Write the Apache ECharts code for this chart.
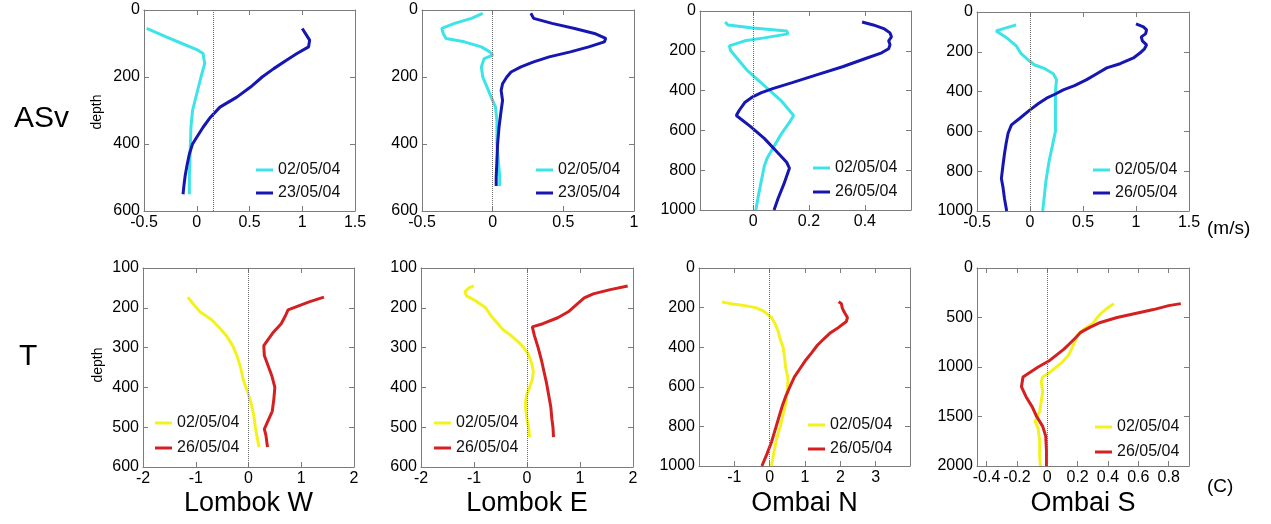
<!DOCTYPE html>
<html><head><meta charset="utf-8">
<script src="https://cdn.jsdelivr.net/npm/echarts@6/dist/echarts.min.js"></script>
<style>html,body{margin:0;padding:0;background:#fff}#c{width:1271px;height:524px}</style>
</head><body><div id="c"></div>
<script>
// ---------- DATA ----------
const rowLabels = ['ASv', 'T'];
const colTitles = ['Lombok W', 'Lombok E', 'Ombai N', 'Ombai S'];
const asvNames12 = ['02/05/04', '23/05/04'];
const asvNames34 = ['02/05/04', '26/05/04'];
const tNames = ['02/05/04', '26/05/04'];

// ASv - Lombok W
const asvLW_dep1 = [55, 80, 100, 118, 130, 160, 200, 250, 300, 350, 400, 450, 500, 550];
const asvLW_val1 = [-0.475, -0.29, -0.14, 0.0, 0.06, 0.075, 0.04, 0.0, -0.04, -0.055, -0.06, -0.065, -0.07, -0.07];
const asvLW_dep2 = [55, 75, 90, 110, 130, 150, 175, 200, 230, 260, 290, 320, 350, 380, 400, 430, 460, 495, 520, 550];
const asvLW_val2 = [1.0, 1.04, 1.07, 1.06, 0.95, 0.85, 0.73, 0.62, 0.51, 0.38, 0.22, 0.13, 0.06, 0.0, -0.04, -0.07, -0.09, -0.11, -0.12, -0.13];
// ASv - Lombok E
const asvLE_dep1 = [10, 25, 40, 55, 70, 85, 95, 110, 125, 135, 145, 170, 200, 230, 260, 290, 330, 400, 450, 500, 525];
const asvLE_val1 = [-0.07, -0.15, -0.27, -0.36, -0.35, -0.33, -0.2, -0.08, -0.02, 0.0, -0.06, -0.08, -0.07, -0.04, -0.01, 0.02, 0.03, 0.03, 0.04, 0.05, 0.05];
const asvLE_dep2 = [10, 25, 40, 55, 70, 85, 95, 110, 125, 140, 155, 170, 185, 200, 220, 240, 270, 300, 350, 400, 450, 500, 525];
const asvLE_val2 = [0.27, 0.29, 0.42, 0.58, 0.72, 0.80, 0.79, 0.68, 0.55, 0.40, 0.29, 0.20, 0.13, 0.10, 0.07, 0.06, 0.07, 0.06, 0.045, 0.035, 0.03, 0.025, 0.025];
// ASv - Ombai N
const asvON_dep1 = [55, 70, 85, 100, 115, 135, 150, 175, 200, 250, 300, 350, 400, 450, 500, 525, 560, 620, 680, 740, 780, 850, 920, 1000];
const asvON_val1 = [-0.1, -0.09, 0.0, 0.12, 0.125, 0.04, -0.03, -0.085, -0.08, -0.05, -0.02, 0.02, 0.06, 0.10, 0.13, 0.145, 0.13, 0.10, 0.075, 0.05, 0.04, 0.03, 0.02, 0.01];
const asvON_dep2 = [55, 70, 90, 110, 130, 150, 170, 190, 210, 240, 280, 320, 360, 390, 410, 430, 460, 500, 525, 580, 640, 700, 760, 790, 810, 870, 940, 1000];
const asvON_val2 = [0.39, 0.43, 0.47, 0.49, 0.495, 0.485, 0.49, 0.485, 0.46, 0.40, 0.32, 0.23, 0.14, 0.07, 0.03, 0.0, -0.03, -0.05, -0.06, -0.01, 0.04, 0.08, 0.12, 0.13, 0.125, 0.11, 0.09, 0.075];
// ASv - Ombai S
const asvOS_dep1 = [65, 95, 130, 170, 205, 240, 265, 285, 310, 340, 400, 500, 600, 650, 750, 850, 950, 1000];
const asvOS_val1 = [-0.13, -0.32, -0.22, -0.13, -0.09, -0.02, 0.04, 0.14, 0.22, 0.25, 0.24, 0.24, 0.24, 0.22, 0.18, 0.15, 0.13, 0.12];
const asvOS_dep2 = [60, 75, 90, 110, 125, 145, 165, 185, 205, 231, 260, 281, 310, 340, 370, 391, 412, 433, 460, 492, 534, 567, 609, 660, 710, 770, 837, 880, 940, 1000];
const asvOS_val2 = [1.0, 1.07, 1.1, 1.09, 1.05, 1.06, 1.1, 1.08, 1.04, 0.976, 0.85, 0.724, 0.63, 0.535, 0.42, 0.314, 0.24, 0.156, 0.08, 0.0, -0.096, -0.175, -0.207, -0.225, -0.24, -0.255, -0.27, -0.255, -0.24, -0.22];

// T - Lombok W
const tLW_dep1 = [173, 190, 210, 230, 250, 270, 295, 320, 350, 380, 410, 440, 470, 500, 530, 550];
const tLW_val1 = [-1.15, -1.05, -0.92, -0.7, -0.55, -0.42, -0.3, -0.22, -0.15, -0.1, -0.02, 0.05, 0.1, 0.13, 0.17, 0.2];
const tLW_dep2 = [173, 185, 195, 205, 220, 240, 260, 280, 295, 320, 345, 370, 400, 430, 460, 490, 505, 520, 550];
const tLW_val2 = [1.43, 1.15, 0.95, 0.75, 0.7, 0.62, 0.48, 0.37, 0.29, 0.3, 0.37, 0.44, 0.5, 0.48, 0.45, 0.35, 0.3, 0.33, 0.36];
// T - Lombok E
const tLE_dep1 = [145, 150, 160, 170, 180, 200, 220, 240, 255, 270, 285, 300, 315, 340, 360, 380, 400, 420, 440, 460, 480, 500, 525];
const tLE_val1 = [-1.0, -1.1, -1.17, -1.14, -1.0, -0.78, -0.68, -0.55, -0.45, -0.3, -0.17, -0.06, 0.02, 0.09, 0.12, 0.1, 0.05, -0.01, -0.03, -0.02, 0.0, 0.03, 0.05];
const tLE_dep2 = [145, 155, 165, 175, 190, 210, 225, 240, 248, 270, 300, 330, 360, 390, 420, 450, 480, 500, 525];
const tLE_val2 = [1.9, 1.55, 1.25, 1.08, 0.95, 0.78, 0.58, 0.3, 0.1, 0.14, 0.21, 0.27, 0.32, 0.37, 0.41, 0.45, 0.47, 0.49, 0.5];
// T - Ombai N
const tON_dep1 = [172, 180, 190, 200, 215, 235, 250, 280, 320, 360, 400, 450, 500, 560, 620, 680, 740, 800, 860, 930, 1000];
const tON_val1 = [-1.35, -1.1, -0.7, -0.4, -0.2, -0.05, 0.05, 0.15, 0.24, 0.3, 0.38, 0.42, 0.45, 0.52, 0.5, 0.46, 0.38, 0.3, 0.2, 0.12, 0.05];
const tON_dep2 = [170, 180, 200, 220, 250, 270, 300, 330, 360, 390, 430, 470, 510, 550, 600, 650, 700, 760, 820, 880, 940, 1000];
const tON_val2 = [1.95, 2.03, 2.05, 2.1, 2.2, 2.17, 1.95, 1.7, 1.52, 1.35, 1.18, 1.0, 0.85, 0.7, 0.57, 0.45, 0.35, 0.25, 0.15, 0.05, -0.08, -0.22];
// T - Ombai S
const tOS_dep1 = [360, 400, 450, 500, 560, 620, 680, 750, 820, 880, 950, 1000, 1050, 1100, 1150, 1250, 1350, 1450, 1550, 1620, 1750, 1900, 2000];
const tOS_val1 = [0.44, 0.4, 0.36, 0.33, 0.3, 0.24, 0.2, 0.18, 0.16, 0.14, 0.1, 0.06, 0.02, -0.03, -0.04, -0.03, -0.04, -0.05, -0.08, -0.06, -0.05, -0.05, -0.045];
const tOS_dep2 = [360, 380, 420, 460, 500, 550, 600, 650, 700, 760, 820, 880, 940, 1000, 1060, 1100, 1200, 1300, 1400, 1500, 1600, 1700, 1850, 2000];
const tOS_val2 = [0.88, 0.8, 0.7, 0.58, 0.46, 0.35, 0.28, 0.22, 0.19, 0.15, 0.11, 0.06, 0.01, -0.06, -0.12, -0.16, -0.17, -0.14, -0.1, -0.07, -0.03, -0.01, -0.005, -0.005];

// custom tick labels
const asvON_xTicks = [0, 0.2, 0.4];
const tON_xTicks = [-1, 0, 1, 2, 3];
const tOS_xTicks = [-0.4, -0.2, 0, 0.2, 0.4, 0.6, 0.8];

// ---------- LAYOUT / STYLE ----------
const FONT = '"Liberation Sans", Arial, sans-serif';
const CYAN = '#3ce4e8', BLUE = '#1616b2', YELLOW = '#f4f21e', RED = '#d42020';
const FRAME = '#7c7c7c';

const panels = [
  {g:[144,10,211,201], xmin:-0.5, xmax:1.5, xint:0.5, ymin:0, ymax:600, yint:200, zero:0.16, leg:[256,162,7],
   s:[[asvLW_dep1, asvLW_val1, asvNames12[0], CYAN], [asvLW_dep2, asvLW_val2, asvNames12[1], BLUE]]},
  {g:[422,10,212,201], xmin:-0.5, xmax:1.0, xint:0.5, ymin:0, ymax:600, yint:200, zero:0, leg:[536,162,7],
   s:[[asvLE_dep1, asvLE_val1, asvNames12[0], CYAN], [asvLE_dep2, asvLE_val2, asvNames12[1], BLUE]]},
  {g:[700,11,211,199], xmin:-0.19, xmax:0.565, xticks:asvON_xTicks, ymin:0, ymax:1000, yint:200, zero:0, leg:[813,160,8],
   s:[[asvON_dep1, asvON_val1, asvNames34[0], CYAN], [asvON_dep2, asvON_val2, asvNames34[1], BLUE]]},
  {g:[977,12,212,199], xmin:-0.5, xmax:1.5, xint:0.5, ymin:0, ymax:1000, yint:200, zero:0, leg:[1093,162,7],
   s:[[asvOS_dep1, asvOS_val1, asvNames34[0], CYAN], [asvOS_dep2, asvOS_val2, asvNames34[1], BLUE]]},
  {g:[143,268,211,199], xmin:-2, xmax:2, xint:1, ymin:100, ymax:600, yint:100, zero:0, leg:[155,415,9],
   s:[[tLW_dep1, tLW_val1, tNames[0], YELLOW], [tLW_dep2, tLW_val2, tNames[1], RED]]},
  {g:[421,268,212,199], xmin:-2, xmax:2, xint:1, ymin:100, ymax:600, yint:100, zero:0, leg:[434,415,9],
   s:[[tLE_dep1, tLE_val1, tNames[0], YELLOW], [tLE_dep2, tLE_val2, tNames[1], RED]]},
  {g:[699,268,211,198], xmin:-2.0, xmax:3.97, xticks:tON_xTicks, ymin:0, ymax:1000, yint:200, zero:0, leg:[808,417,8],
   s:[[tON_dep1, tON_val1, tNames[0], YELLOW], [tON_dep2, tON_val2, tNames[1], RED]]},
  {g:[977,268,212,198], xmin:-0.463, xmax:0.934, xticks:tOS_xTicks, ymin:0, ymax:2000, yint:500, zero:0, leg:[1095,419,9],
   s:[[tOS_dep1, tOS_val1, tNames[0], YELLOW], [tOS_dep2, tOS_val2, tNames[1], RED]]}
];

const grids = [], xAxes = [], yAxes = [], series = [], legends = [];
const n = panels.length;
const fmt = v => String(Math.round(v * 1000) / 1000);
panels.forEach((p, i) => {
  grids.push({left:p.g[0], top:p.g[1], width:p.g[2], height:p.g[3], containLabel:false});
  const lineS = {show:true, onZero:false, lineStyle:{color:FRAME, width:1}};
  const tickS = {show:true, inside:true, length:5, lineStyle:{color:FRAME, width:1}};
  const lab = {show:true, color:'#000', fontSize:16, fontFamily:FONT, margin:4, formatter:fmt};
  function xa(pos, showLab) {
    const a = {type:'value', gridIndex:i, position:pos, min:p.xmin, max:p.xmax, splitLine:{show:false},
      axisLine:lineS, axisTick:Object.assign({}, tickS), axisLabel:Object.assign({}, lab, {show:showLab})};
    if (p.xticks) { a.axisTick.customValues = p.xticks; a.axisLabel.customValues = p.xticks; }
    else a.interval = p.xint;
    return a;
  }
  function ya(pos, showLab) {
    return {type:'value', gridIndex:i, position:pos, inverse:true, min:p.ymin, max:p.ymax, interval:p.yint,
      splitLine:{show:false}, axisLine:lineS, axisTick:tickS, axisLabel:Object.assign({}, lab, {show:showLab})};
  }
  xAxes[i] = xa('bottom', true);
  xAxes[n + i] = xa('top', false);
  yAxes[i] = ya('left', true);
  yAxes[n + i] = ya('right', false);
  p.s.forEach((s, k) => {
    const ser = {type:'line', name:s[2], xAxisIndex:i, yAxisIndex:i, showSymbol:false, symbol:'none',
      data:s[0].map((d, j) => [s[1][j], d]), lineStyle:{color:s[3], width:3}, itemStyle:{color:s[3]},
      z:3 + k, animation:false};
    if (k === 0) {
      ser.markLine = {silent:true, symbol:['none','none'], label:{show:false}, animation:false,
        lineStyle:{type:'dotted', color:'#6a6a6a', width:1}, data:[{xAxis:p.zero}]};
    }
    series.push(ser);
  });
  legends.push({left:p.leg[0], top:p.leg[1], orient:'vertical', itemWidth:17, itemHeight:3, itemGap:p.leg[2],
    icon:'rect', padding:0, selectedMode:false,
    textStyle:{fontSize:16, fontFamily:FONT, color:'#111', lineHeight:16},
    data:p.s.map(s => ({name:s[2], icon:'rect', itemStyle:{color:s[3], borderWidth:0}}))});
});

const titleX = [248.5, 527, 804.5, 1083];
const graphics = [
  {type:'text', x:14, y:119, style:{text:rowLabels[0], fontSize:30, fontFamily:FONT, fill:'#000', align:'left', verticalAlign:'middle'}},
  {type:'text', x:19, y:357, style:{text:rowLabels[1], fontSize:30, fontFamily:FONT, fill:'#000', align:'left', verticalAlign:'middle'}},
  {type:'text', x:97, y:112, rotation:Math.PI/2, style:{text:'depth', fontSize:14, fontFamily:FONT, fill:'#000', align:'center', verticalAlign:'middle'}},
  {type:'text', x:98, y:365, rotation:Math.PI/2, style:{text:'depth', fontSize:14, fontFamily:FONT, fill:'#000', align:'center', verticalAlign:'middle'}},
  {type:'text', x:1207, y:229, style:{text:'(m/s)', fontSize:19, fontFamily:FONT, fill:'#000', align:'left', verticalAlign:'middle'}},
  {type:'text', x:1207, y:487, style:{text:'(C)', fontSize:19, fontFamily:FONT, fill:'#000', align:'left', verticalAlign:'middle'}}
];
colTitles.forEach((t, i) => graphics.push({type:'text', x:titleX[i], y:504,
  style:{text:t, fontSize:27, fontFamily:FONT, fill:'#000', align:'center', verticalAlign:'middle'}}));

const chart = echarts.init(document.getElementById('c'), null, {renderer:'canvas'});
chart.setOption({
  animation:false, backgroundColor:'#fff',
  grid:grids, xAxis:xAxes, yAxis:yAxes, series:series, legend:legends, graphic:graphics
});
</script></body></html>
